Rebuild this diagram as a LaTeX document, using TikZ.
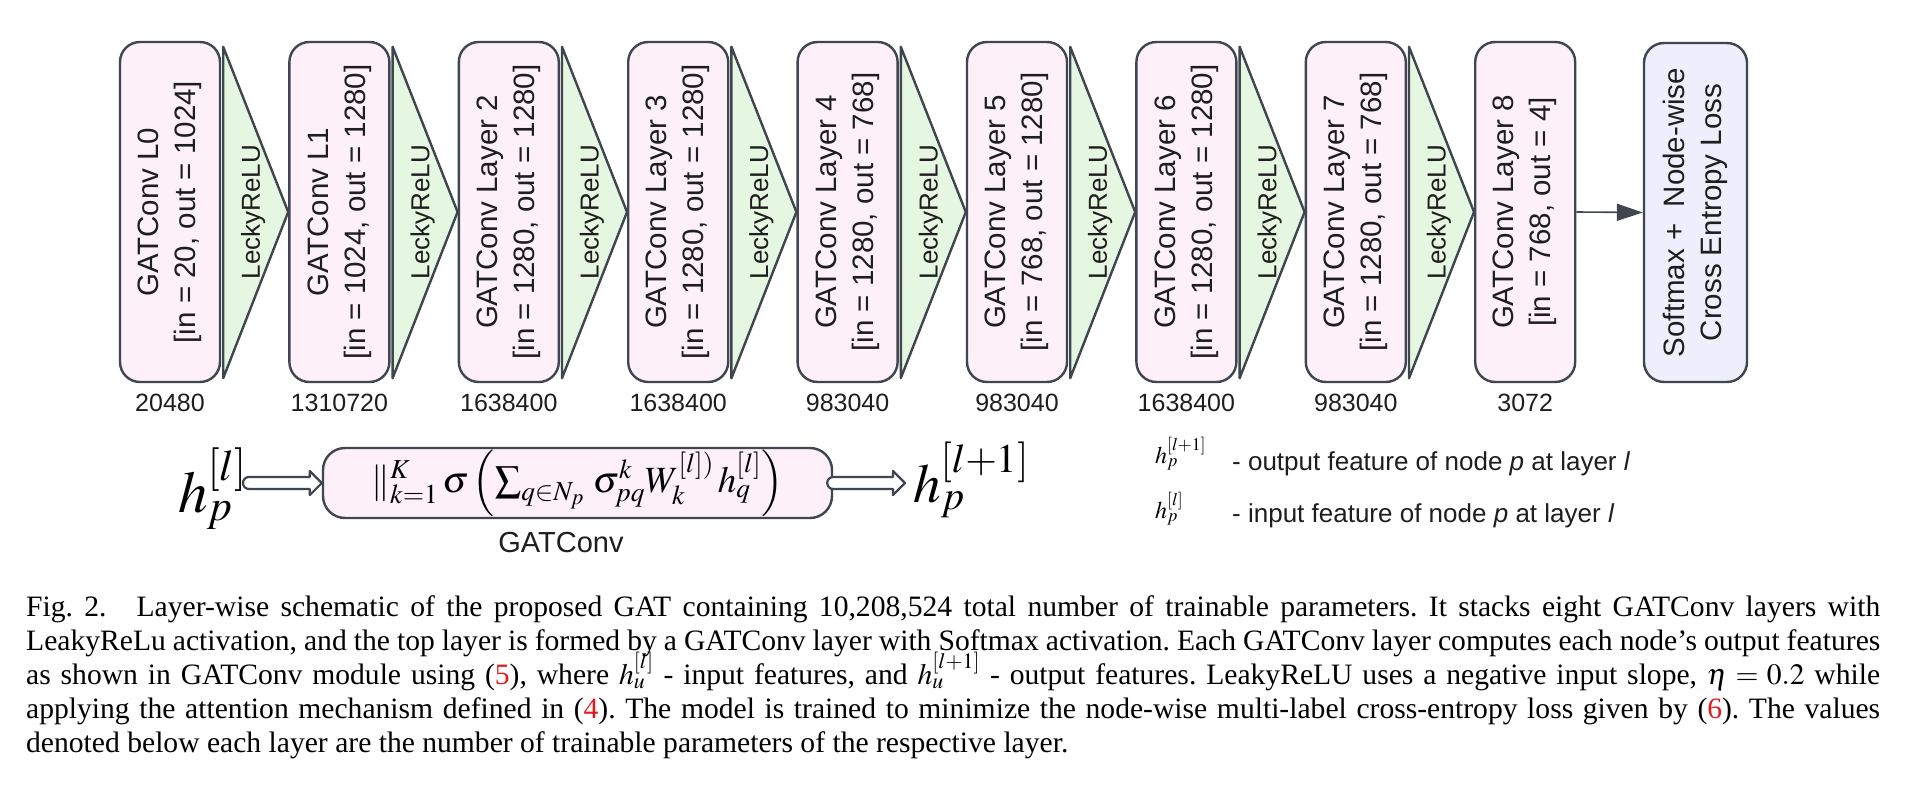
\documentclass[tikz,border=0pt]{standalone}
\usepackage{mathptmx}
\usepackage{fontspec}
\setmainfont{Liberation Serif}
\setsansfont{Liberation Sans}
\usetikzlibrary{arrows.meta,calc}
\definecolor{bord}{HTML}{3F4650}
\definecolor{pinkf}{HTML}{FDF0F9}
\definecolor{greenf}{HTML}{E6F7E1}
\definecolor{lavf}{HTML}{EEEEFC}
\definecolor{refred}{HTML}{E3191F}
\definecolor{txt}{HTML}{1E1E1E}
\frenchspacing
\newcommand{\hollowarr}[2]{%
  \draw[hollow] let \p1=(#1), \p2=(#2) in
    (\x1,\y2+6pt) -- (\x2-12pt,\y2+6pt) -- (\x2-12pt,\y2+12pt) -- (\x2,\y2)
    -- (\x2-12pt,\y2-12pt) -- (\x2-12pt,\y2-6pt) -- (\x1,\y2-6pt)
    arc[start angle=270,end angle=90,radius=6pt] -- cycle;}
\begin{document}
\begin{tikzpicture}[x=1pt,y=-1pt,
  layerbox/.style={draw=bord, line width=2.4pt, fill=pinkf, rounded corners=20pt,
    minimum width=100pt, minimum height=340pt, inner sep=0pt},
  smbox/.style={layerbox, fill=lavf, minimum width=103pt, minimum height=339pt},
  tri/.style={draw=bord, fill=greenf, line width=2.4pt, line join=round},
  boxtext/.style={rotate=90, align=center, inner sep=0pt, text=txt,
    font=\sffamily\fontsize{29.5}{37}\selectfont},
  relutext/.style={rotate=90, inner sep=0pt, text=txt,
    font=\sffamily\fontsize{26}{30}\selectfont},
  numtext/.style={inner sep=0pt, text=txt, font=\sffamily\fontsize{25}{30}\selectfont},
  formbox/.style={draw=bord, line width=2.4pt, fill=pinkf, rounded corners=22pt,
    minimum width=509pt, minimum height=70pt, inner sep=0pt},
  hollow/.style={draw=bord, line width=2.2pt, fill=white, line join=round},
  arr/.style={draw=bord, line width=1.6pt, -{Triangle[length=26pt,width=17pt]}},
  legtext/.style={anchor=base west, inner sep=0pt, text=txt,
    font=\sffamily\fontsize{26}{30}\selectfont},
  capline/.style={anchor=base west, inner sep=0pt, text=black,
    font=\rmfamily\fontsize{29.6}{34}\selectfont},
  mathnode/.style={anchor=base west, inner sep=0pt, text=black}
]
\fill[white] (0,0) rectangle (1920,792);
\useasboundingbox (0,0) rectangle (1920,792);

% layer boxes
\foreach \i/\a/\b/\n in {
  0/{GATConv L0}/{[in = 20, out = 1024]}/20480,
  1/{GATConv L1}/{[in = 1024, out = 1280]}/1310720,
  2/{GATConv Layer 2}/{[in = 1280, out = 1280]}/1638400,
  3/{GATConv Layer 3}/{[in = 1280, out = 1280]}/1638400,
  4/{GATConv Layer 4}/{[in = 1280, out = 768]}/983040,
  5/{GATConv Layer 5}/{[in = 768, out = 1280]}/983040,
  6/{GATConv Layer 6}/{[in = 1280, out = 1280]}/1638400,
  7/{GATConv Layer 7}/{[in = 1280, out = 768]}/983040,
  8/{GATConv Layer 8}/{[in = 768, out = 4]}/3072}{
  \node[layerbox] (L\i) at ({170+169.4*\i},212) {};
  \node[boxtext] (T\i) at (L\i.center) {\a\\{\b}};
  \node[numtext] (N\i) at ($(L\i.south)+(0,20)$) {\n};
}

% activation triangles
\foreach \i [evaluate=\i as \j using int(\i+1)] in {0,...,7}{
  \draw[tri] ($(L\i.north east)+(2,6)$) -- ($(L\i.south east)+(2,-5)$) -- (L\j.west) -- cycle;
  \node[relutext] (R\i) at ($(L\i.east)+(32,0)$) {LeckyReLU};
}

% softmax box
\node[smbox] (SM) at (1695.5,212.5) {};
\node[boxtext] (SMT) at (SM.center) {Softmax +\ \ Node-wise\\Cross Entropy Loss};
\draw[arr] (L8.east) -- (SM.west);

% GATConv module
\node[formbox] (FB) at (577.5,483) {\fontsize{37}{37}\selectfont
  $\|^{K}_{k=1}\,\sigma\left(\sum_{q\in N_p}\,\sigma^{k}_{pq}W_{k}^{[l])}\,h_{q}^{[l]}\right)$};
\node[numtext, font=\sffamily\fontsize{29}{30}\selectfont] (GL) at (561,543) {GATConv};
\node[mathnode] (HL) at (178,512) {\fontsize{59}{59}\selectfont$h_p^{[l]}$};
\node[mathnode] (HR) at (913,502) {\fontsize{55}{55}\selectfont$h_p^{[l+1]}$};
\hollowarr{$(HL.east |- FB.west)+(2,0)$}{FB.west}
\hollowarr{FB.east}{$(HR.west |- FB.east)+(-8,0)$}

% legend
\node[mathnode] (LM1) at (1155,463) {\fontsize{24}{24}\selectfont$h_p^{[l+1]}$};
\node[legtext] (LT1) at (1232,470) {- output feature of node \textit{p} at layer \textit{l}};
\node[mathnode] (LM2) at (1155,518) {\fontsize{24}{24}\selectfont$h_p^{[l]}$};
\node[legtext] (LT2) at (1232,522) {- input feature of node \textit{p} at layer \textit{l}};

% caption
\node[capline] (C1) at (26,616) {\makebox[1854pt][s]{Fig.~2.\hspace{30pt}Layer-wise schematic of the proposed GAT containing 10,208,524 total number of trainable parameters. It stacks eight GATConv layers with}};
\node[capline] (C2) at (26,650) {\makebox[1854pt][s]{LeakyReLu activation, and the top layer is formed by a GATConv layer with Softmax activation. Each GATConv layer computes each node’s output features}};
\node[capline] (C3) at (26,684) {\makebox[1854pt][s]{as shown in GATConv module using (\textcolor{refred}{5}), where $h_u^{[l]}$ - input features, and $h_u^{[l+1]}$ - output features. LeakyReLU uses a negative input slope, $\eta = 0.2$ while}};
\node[capline] (C4) at (26,718) {\makebox[1854pt][s]{applying the attention mechanism defined in (\textcolor{refred}{4}). The model is trained to minimize the node-wise multi-label cross-entropy loss given by (\textcolor{refred}{6}). The values}};
\node[capline] (C5) at (26,752) {denoted below each layer are the number of trainable parameters of the respective layer.};
\end{tikzpicture}
\end{document}
